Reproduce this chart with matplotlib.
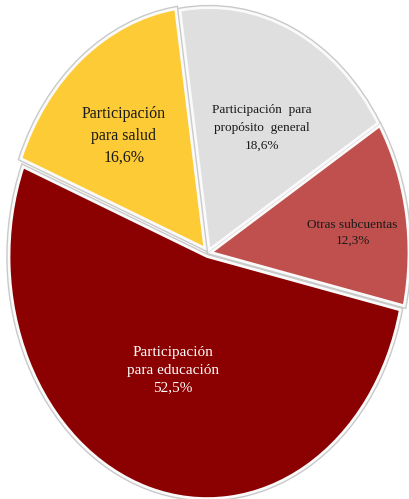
import numpy as np
import matplotlib.pyplot as plt

# datos (orden horario desde arriba)
etiquetas = ['Participación  para\npropósito  general', 'Otras subcuentas',
             'Participación\npara educación', 'Participación\npara salud']
valores = [18.6, 12.3, 52.5, 16.6]
colores = ['#E0DFE0', '#C0504D', '#8B0000', '#FDCB35']
color_texto = ['#1a1a1a', '#1a1a1a', 'white', '#1a1a1a']
tam_texto = [9.5, 9.5, 11, 11.5]
esp_texto = [1.6, 1.34, 1.5, 1.5]
dist_texto = [0.57, 0.72, 0.50, 0.62]
desv_ang = [-3, -3, -3, 3]

plt.rcParams['font.family'] = ['Liberation Serif', 'DejaVu Serif']

fig = plt.figure(figsize=(4.09, 4.99), dpi=100)
ax = fig.add_axes([0, 0, 1, 1])

# sombra gris bajo el borde blanco
ax.pie(valores, colors=colores, startangle=98.5, counterclock=False,
       explode=[0.015, 0.015, 0.015, 0.025],
       wedgeprops=dict(edgecolor='#C9C9C9', linewidth=4))
wedges, _ = ax.pie(valores, colors=colores, startangle=98.5, counterclock=False,
                   explode=[0.015, 0.015, 0.015, 0.025],
                   wedgeprops=dict(edgecolor='#FAFAFA', linewidth=2))

for i, w in enumerate(wedges):
    ang = np.deg2rad((w.theta1 + w.theta2) / 2 + desv_ang[i])
    cx, cy = w.center
    x = cx + dist_texto[i] * np.cos(ang)
    y = cy + dist_texto[i] * np.sin(ang)
    txt = etiquetas[i] + '\n' + f'{valores[i]:.1f}%'.replace('.', ',')
    ax.text(x, y, txt, ha='center', va='center', color=color_texto[i],
            fontsize=tam_texto[i], linespacing=esp_texto[i])

ax.set_aspect('auto')
ax.set_xlim(-1.05, 1.015)
ax.set_ylim(-1.016, 1.045)
ax.axis('off')

fig.savefig('out.png', dpi=100)
